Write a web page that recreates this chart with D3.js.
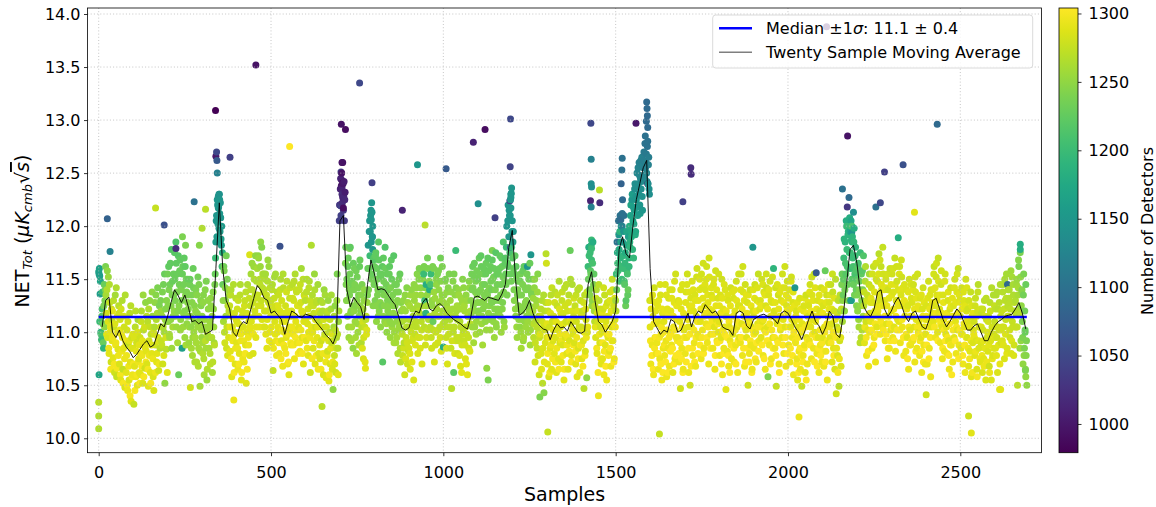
<!DOCTYPE html>
<html>
<head>
<meta charset="utf-8">
<script src="https://cdn.jsdelivr.net/npm/d3@7"></script>
<style>
  body { margin: 0; background: #fff; }
  svg text { font-family: "DejaVu Sans", sans-serif; fill: #000; }
</style>
</head>
<body>
<svg id="chart" width="1156" height="507"></svg>
<script>
// netTot[i] / nDetectors[i] are sample 2*i, netTotOdd[i] / nDetectorsOdd[i] are sample 2*i+1
// maValues[i] is the twenty sample moving average at sample (i + 1) * MA_STEP
const MA_STEP = 10;

const netTot = [
  11.57,11.60,11.36,11.00,10.93,11.22,11.08,10.85,11.45,11.30,
  11.62,11.18,11.40,10.95,11.52,10.80,11.28,11.05,10.72,11.12,
  11.20,10.76,11.05,10.62,11.35,10.90,10.58,11.15,10.84,11.25,
  10.70,11.12,10.55,10.98,11.30,10.65,10.85,11.05,10.48,10.92,
  10.62,11.02,10.45,10.88,10.55,11.18,10.72,10.35,10.95,10.60,
  10.85,10.32,10.68,11.05,10.58,10.90,10.50,11.12,10.75,10.62, // 100
  10.95,10.60,11.20,10.78,10.52,11.02,10.88,10.66,11.28,10.82,
  10.70,11.10,10.49,10.92,11.30,10.62,10.98,10.80,11.15,10.58,
  10.45,11.05,10.88,11.35,10.72,11.18,10.95,10.64,11.25,10.85,
  11.30,10.92,11.15,10.70,11.45,11.00,10.52,11.22,10.84,11.10,
  11.55,11.10,11.40,10.95,11.65,11.25,10.85,11.48,11.15,11.35, // 200
  11.75,11.30,11.85,11.05,11.55,11.20,10.60,11.45,11.68,11.12,
  11.40,10.85,11.62,11.18,11.70,10.95,11.35,11.50,11.08,11.28,
  11.22,10.90,11.45,10.48,11.05,11.35,10.78,11.60,11.00,11.25,
  10.95,11.40,10.72,11.18,11.52,10.85,11.08,10.49,11.30,11.02,
  11.15,10.80,11.35,10.60,11.05,10.92,11.48,10.55,10.98,11.22, // 300
  10.85,11.10,10.70,11.25,10.95,10.62,11.38,11.05,10.88,11.55,
  11.85,12.10,12.25,12.02,12.18,12.30,11.95,12.08,11.82,11.62,
  11.45,11.10,11.58,10.90,11.30,11.72,11.05,10.78,11.40,11.20,
  11.25,10.82,11.40,10.58,11.05,10.95,10.36,11.18,10.70,11.32,
  10.90,11.22,10.65,11.08,10.80,11.35,10.98,10.55,11.15,10.75, // 400
  11.05,10.72,11.30,10.88,10.52,11.18,11.45,10.95,11.10,10.78,
  11.25,11.55,11.00,11.40,10.80,11.62,11.15,11.35,10.95,11.48,
  11.60,11.25,11.70,11.05,11.45,11.85,11.30,11.12,11.55,11.38,
  11.40,11.05,11.55,11.20,10.85,11.48,11.30,11.62,11.00,11.25,
  11.30,10.90,11.45,10.64,11.15,11.52,10.98,11.25,10.78,11.38, // 500
  11.05,11.35,10.80,11.20,11.50,10.92,11.10,10.68,11.42,11.00,
  10.85,11.25,10.95,11.48,10.70,11.15,10.60,11.32,11.02,10.88,
  11.20,11.45,10.98,11.30,10.75,11.55,11.10,11.38,10.90,11.25,
  11.05,11.40,10.82,11.28,11.60,10.95,11.18,10.70,11.35,11.12,
  11.30,10.92,11.50,11.08,10.78,11.42,11.15,10.62,11.25,11.00, // 600
  11.35,10.85,11.18,11.55,10.70,11.05,11.28,10.95,11.45,10.80,
  11.10,10.75,11.30,10.92,10.30,11.20,10.60,11.40,10.98,11.05,
  10.57,11.15,10.82,11.30,10.54,11.00,10.70,11.22,10.90,10.65,
  10.46,11.05,10.78,11.25,10.62,10.95,11.55,10.85,11.10,12.05,
  12.20,12.45,12.38,12.30,12.60,12.15,12.42,12.25,11.65,11.45, // 700
  11.50,11.15,11.70,10.95,11.35,11.80,11.20,11.05,11.45,10.85,
  11.40,11.60,11.10,11.25,10.80,11.52,11.00,11.35,11.15,11.68,
  11.20,10.90,11.45,11.10,10.75,11.30,11.05,10.66,11.15,11.02,
  11.35,11.82,11.60,12.05,11.95,12.15,11.50,11.90,11.25,11.70,
  11.62,11.30,11.75,11.10,11.50,11.40,11.85,11.20,11.55,11.05, // 800
  11.55,11.25,10.72,11.70,11.35,11.10,11.60,11.45,11.00,11.30,
  11.40,11.15,11.62,10.95,11.30,11.50,11.08,11.25,11.72,11.00,
  11.25,10.90,11.45,11.10,10.80,11.38,11.05,11.55,10.72,11.20,
  11.10,10.78,11.30,10.90,10.60,11.20,10.95,11.42,10.70,11.05,
  10.85,11.25,10.65,11.05,11.40,10.92,11.15,10.55,11.30,10.98, // 900
  11.35,11.05,11.55,10.80,11.20,11.60,10.95,11.42,11.10,10.70,
  11.50,11.15,11.62,11.30,10.88,11.45,11.25,11.70,11.02,11.38,
  11.40,11.05,11.55,10.85,11.25,11.10,11.60,10.72,11.32,11.00,
  11.45,11.15,10.90,11.58,11.28,11.05,11.70,10.82,11.35,11.20,
  10.86,11.35,11.10,11.50,10.95,11.25,10.70,11.42,11.05,11.18, // 1000
  11.30,10.85,10.47,11.15,11.48,10.62,11.05,11.35,10.92,11.20,
  11.25,10.80,11.40,10.95,11.10,10.68,11.32,10.88,11.50,11.02,
  10.92,11.20,10.75,11.35,10.98,10.60,11.15,10.85,11.42,11.08,
  11.30,11.55,11.05,11.42,10.90,11.65,11.20,11.48,11.10,11.35,
  11.50,11.20,11.70,11.00,11.40,11.62,11.15,10.88,11.55,11.30, // 1100
  11.45,11.10,11.65,10.66,11.35,10.55,11.58,11.25,11.02,11.48,
  11.40,11.68,11.15,11.52,10.95,11.30,11.75,11.05,11.45,11.22,
  11.55,11.20,11.72,11.35,11.00,11.62,11.28,11.85,11.10,11.48,
  11.70,11.45,12.00,11.65,12.20,11.90,12.10,11.55,12.30,11.80,
  12.05,11.85,11.60,11.30,11.72,11.15,11.50,10.95,11.40,11.25, // 1200
  11.35,11.05,11.55,10.85,11.20,11.45,10.92,11.62,11.10,11.28,
  11.40,11.15,11.62,11.00,11.50,11.25,10.88,11.73,11.35,11.08,
  11.20,10.95,11.42,10.72,11.10,11.30,10.85,11.55,11.00,10.60,
  10.39,11.15,10.80,11.30,10.52,11.05,10.43,11.20,10.90,11.74,
  10.95,10.70,11.20,10.58,11.05,10.85,11.35,10.65,11.10,10.92, // 1300
  11.15,10.80,11.38,10.95,10.62,11.25,11.02,10.75,11.48,10.90,
  11.05,10.72,11.30,10.88,11.18,10.55,11.42,10.95,11.10,10.80,
  11.20,10.65,11.35,10.92,11.77,11.08,10.78,11.45,10.98,11.15,
  10.90,11.25,10.70,11.10,10.58,11.40,10.85,11.05,10.62,11.30,
  11.05,10.75,11.20,10.92,10.47,11.35,10.82,11.12,10.57,11.00, // 1400
  11.62,11.80,11.40,11.75,11.55,11.68,11.30,11.85,11.45,11.20,
  11.25,10.95,11.40,10.80,11.10,10.40,11.30,10.90,11.05,10.70,
  11.00,10.75,11.22,10.60,11.35,10.88,11.10,10.55,11.28,10.95,
  11.15,10.82,11.38,10.68,11.05,11.50,10.92,11.25,10.75,11.12,
  11.30,11.55,11.85,11.65,12.05,11.78,11.95,11.70,12.00,11.50, // 1500
  11.85,11.60,12.10,11.45,11.75,11.30,11.95,11.55,11.40,11.70,
  12.00,11.80,12.20,11.90,12.30,12.05,11.70,12.15,12.40,11.95,
  12.25,12.50,12.10,12.40,12.60,12.20,12.45,12.35,12.65,12.15,
  12.55,12.70,12.45,12.85,12.60,12.50,12.75,12.40,12.65,12.30,
  11.05,10.70,11.30,10.88,11.15,10.60,11.42,10.95,11.20,10.80, // 1600
  10.90,11.25,10.65,11.08,10.75,11.35,10.98,10.55,11.18,10.85,
  11.10,10.78,11.45,10.92,10.58,11.22,10.85,11.32,10.68,11.00,
  11.20,10.88,11.40,10.62,11.05,11.28,10.75,11.55,10.95,11.12,
  10.95,11.30,10.72,11.10,10.47,11.22,10.85,11.45,10.65,11.02,
  11.15,10.80,11.38,10.95,11.55,11.05,10.62,11.25,10.50,11.32, // 1700
  11.05,11.48,10.78,11.20,10.90,11.35,10.68,11.15,11.60,10.98,
  11.30,10.95,11.50,11.10,10.75,11.42,11.02,11.65,10.85,11.25,
  11.40,11.08,11.62,10.90,11.28,10.70,11.52,11.15,10.98,11.35,
  11.20,10.85,11.45,11.05,10.65,11.58,11.12,10.92,11.32,11.00,
  11.10,10.78,11.35,10.95,11.50,10.60,11.22,10.85,11.05,11.40, // 1800
  10.46,11.15,10.82,11.30,10.68,11.05,10.92,11.42,10.75,11.00,
  10.98,11.32,10.72,11.20,10.88,11.48,11.05,10.62,11.25,10.95,
  11.25,10.90,11.55,11.08,10.78,11.38,11.15,10.68,11.45,11.02,
  10.95,11.28,10.50,11.12,10.80,11.40,10.88,11.05,10.65,11.20,
  11.15,10.85,11.45,11.00,10.72,11.30,11.08,11.55,10.92,11.22, // 1900
  11.30,10.95,11.50,11.10,10.78,11.38,11.02,10.65,11.25,11.42,
  11.05,10.58,11.35,10.88,11.48,11.15,10.75,11.28,10.95,11.60,
  11.20,10.85,11.42,10.49,11.08,10.92,11.35,10.70,11.15,11.02,
  11.30,10.95,11.55,11.12,10.80,11.42,11.05,10.68,11.25,11.48,
  11.18,10.88,11.40,10.72,11.05,11.52,10.95,11.28,10.60,11.10, // 2000
  11.42,10.90,11.20,10.75,10.55,11.05,10.82,11.32,10.65,11.00,
  10.49,11.08,10.78,11.25,10.88,10.62,11.35,10.95,10.70,11.15,
  11.25,10.92,11.45,11.05,10.75,11.35,11.12,10.85,11.55,11.00,
  11.10,11.56,10.80,11.30,10.95,10.62,11.20,10.88,11.42,10.72,
  10.95,11.25,10.68,11.05,11.58,10.82,11.35,10.55,11.15,10.90, // 2100
  11.28,10.95,11.45,11.08,10.72,11.38,10.85,11.20,10.65,11.50,
  10.42,11.05,10.78,11.30,10.49,10.92,11.20,10.68,11.45,11.10,
  11.35,11.70,11.20,11.85,11.55,12.00,11.62,11.92,11.30,11.75,
  11.95,11.60,11.30,11.85,11.70,11.45,11.98,11.55,11.80,11.40,
  11.50,11.20,11.65,11.05,11.40,11.75,10.95,11.30,11.58,11.15, // 2200
  11.25,10.90,11.48,11.10,10.78,11.35,11.02,10.68,11.55,11.18,
  11.10,11.42,10.85,11.28,11.62,10.95,11.20,10.72,11.50,11.05,
  11.48,11.15,11.74,11.30,10.98,11.62,11.40,11.05,11.55,11.25,
  11.30,10.92,11.50,11.08,10.75,11.40,11.15,10.85,11.60,11.02,
  11.20,11.55,10.95,11.38,11.05,11.70,10.82,11.30,11.48,11.12, // 2300
  11.40,11.10,11.62,10.90,11.35,11.52,11.05,11.25,10.78,11.45,
  11.15,10.82,11.40,10.95,11.25,10.65,11.50,11.02,10.88,11.32,
  11.28,10.92,11.45,11.05,10.72,11.38,11.12,10.85,11.55,11.00,
  11.10,10.78,11.32,10.95,10.62,11.22,11.42,10.88,11.05,10.70,
  10.98,11.25,10.70,11.12,11.48,10.85,11.35,10.58,11.05,11.18, // 2400
  11.40,11.10,11.62,11.25,10.95,11.52,11.35,11.00,11.70,11.18,
  11.22,10.90,11.45,11.05,10.75,11.35,11.12,10.82,11.55,10.98,
  11.05,10.80,11.30,10.92,10.65,11.22,11.42,10.88,11.15,10.72,
  11.25,10.95,11.50,11.10,10.80,11.38,11.02,11.60,10.88,11.30,
  11.15,10.85,11.42,10.98,10.70,11.30,11.05,10.62,11.50,11.20, // 2500
  10.95,11.22,10.68,11.08,10.82,11.38,10.58,11.15,10.90,11.02,
  11.10,10.78,11.32,10.92,10.65,11.20,11.45,10.85,11.05,10.72,
  10.90,11.18,10.62,11.02,10.75,11.30,10.85,10.55,11.12,10.95,
  10.82,11.15,10.68,11.28,10.92,10.55,11.05,10.78,11.35,10.98,
  11.10,10.85,11.35,10.95,10.62,11.22,11.02,10.46,11.45,10.90, // 2600
  11.20,10.92,11.45,11.05,10.75,11.30,11.12,11.55,10.85,11.25,
  11.15,11.40,10.95,11.28,10.80,11.52,11.05,11.35,10.88,11.20,
  11.30,11.05,11.50,10.50,11.42,11.62,11.18,11.75,10.92,11.38,
  11.10,10.70,11.55,10.85,11.00,10.58
];

const nDetectors = [
  1160,1165,1160,1190,1200,1210,1230,1190,1230,1240,
  1240,1280,1265,1285,1255,1290,1275,1290,1280,1270,
  1290,1290,1275,1280,1260,1295,1275,1285,1290,1270,
  1285,1280,1290,1295,1265,1275,1290,1280,1285,1295,
  1290,1280,1295,1275,1285,1270,1290,1290,1280,1295,
  1285,1275,1290,1270,1295,1280,1290,1260,1285,1290, // 100
  1280,1290,1265,1295,1285,1270,1290,1280,1250,1290,
  1285,1270,1290,1280,1250,1290,1270,1290,1255,1285,
  1285,1265,1280,1245,1290,1260,1285,1280,1240,1270,
  1240,1275,1255,1280,1235,1260,1250,1245,1270,1250,
  1235,1250,1240,1260,1225,1245,1255,1230,1250,1240, // 200
  1220,1240,1215,1255,1230,1245,1230,1235,1225,1250,
  1240,1160,1230,1250,1225,1255,1245,1235,1250,1245,
  1245,1255,1235,1280,1250,1240,1260,1230,1255,1245,
  1260,1240,1265,1250,1235,1260,1255,1260,1245,1255,
  1250,1265,1245,1260,1255,1270,1240,1255,1265,1250, // 300
  1260,1255,1270,1250,1265,1260,1245,1255,1270,1230,
  1160,1150,1150,1155,1150,1145,1155,1150,1160,1200,
  1230,1260,1240,1280,1250,1235,1275,1285,1255,1270,
  1275,1290,1265,1290,1285,1295,1295,1280,1290,1270,
  1290,1280,1295,1285,1290,1270,1295,1290,1280,1295, // 400
  1285,1295,1275,1290,1290,1280,1265,1295,1285,1290,
  1275,1260,1290,1270,1285,1255,1280,1270,1290,1265,
  1260,1280,1255,1290,1270,1250,1275,1285,1265,1275,
  1270,1285,1260,1280,1290,1265,1275,1255,1290,1280,
  1275,1290,1265,1275,1285,1260,1290,1280,1295,1270, // 500
  1290,1275,1295,1285,1265,1290,1285,1295,1270,1290,
  1295,1280,1290,1270,1295,1285,1290,1275,1290,1295,
  1285,1270,1295,1280,1295,1265,1290,1275,1295,1285,
  1290,1275,1295,1280,1260,1290,1285,1290,1275,1285,
  1270,1290,1265,1285,1290,1270,1280,1280,1275,1290, // 600
  1265,1285,1275,1255,1290,1280,1270,1290,1260,1285,
  1270,1285,1260,1280,1270,1265,1285,1255,1275,1270,
  1290,1265,1280,1255,1290,1270,1285,1260,1275,1285,
  1250,1260,1275,1250,1280,1265,1240,1270,1255,1040,
  1030,1010,1000,1020,995,1030,1005,1015,1240,1240, // 700
  1235,1250,1230,1255,1240,1225,1245,1260,1235,1250,
  1240,1235,1255,1245,1260,1235,1255,1240,1250,1230,
  1245,1265,1240,1280,1285,1250,1275,1290,1270,1285,
  1240,1150,1230,1150,1150,1150,1235,1150,1245,1220,
  1230,1240,1225,1250,1235,1240,1220,1245,1230,1250, // 800
  1230,1240,1220,1225,1240,1250,1230,1235,1250,1240,
  1235,1245,1225,1255,1240,1230,1250,1245,1220,1255,
  1245,1260,1235,1250,1265,1240,1255,1230,1270,1250,
  1260,1275,1250,1270,1280,1255,1275,1245,1280,1265,
  1280,1260,1285,1270,1250,1280,1265,1285,1255,1275, // 900
  1255,1270,1245,1285,1265,1240,1280,1250,1270,1285,
  1245,1265,1240,1200,1280,1180,1260,1235,1275,1250,
  1180,1270,1200,1280,1250,1230,1240,1285,1255,1275,
  1250,1265,1280,1240,1255,1270,1235,1285,1250,1260,
  1180,1250,1265,1240,1275,1255,1285,1245,1270,1260, // 1000
  1255,1275,1270,1265,1245,1220,1270,1250,1280,1260,
  1260,1280,1250,1275,1265,1285,1255,1280,1245,1270,
  1275,1260,1285,1250,1275,1290,1265,1280,1250,1270,
  1245,1235,1255,1240,1260,1230,1250,1240,1255,1245,
  1235,1245,1230,1255,1240,1230,1250,1260,1235,1245, // 1100
  1235,1250,1230,1250,1240,1240,1230,1245,1255,1235,
  1235,1225,1245,1235,1255,1240,1220,1250,1235,1245,
  1230,1245,1225,1240,1255,1230,1240,1215,1250,1235,
  1220,1235,1150,1225,1150,1150,1150,1230,1150,1200,
  1150,1160,1230,1245,1225,1250,1235,1255,1240,1245, // 1200
  1240,1250,1235,1260,1245,1240,1255,1225,1250,1245,
  1240,1250,1150,1255,1235,1245,1260,1150,1240,1255,
  1260,1270,1250,1280,1265,1255,1275,1245,1270,1280,
  1240,1275,1285,1265,1270,1280,1245,1270,1285,1270,
  1285,1290,1275,1285,1280,1290,1270,1290,1280,1285, // 1300
  1280,1290,1270,1285,1290,1275,1285,1290,1265,1285,
  1285,1290,1275,1285,1280,1290,1270,1285,1280,1290,
  1280,1290,1270,1285,1230,1280,1290,1265,1285,1280,
  1285,1275,1290,1280,1290,1270,1285,1280,1290,1275,
  1280,1290,1275,1285,1270,1270,1285,1280,1250,1285, // 1400
  1200,1180,1240,1200,1230,1200,1250,1180,1240,1260,
  1270,1285,1265,1290,1280,1295,1270,1285,1280,1290,
  1285,1290,1280,1295,1275,1290,1285,1295,1280,1290,
  1285,1290,1280,1295,1285,1275,1290,1280,1295,1285,
  1260,1200,1100,1200,1100,1180,1190,1190,1150,1200, // 1500
  1150,1200,1100,1220,1180,1220,1170,1210,1230,1190,
  1180,1190,1170,1180,1160,1170,1195,1160,1140,1175,
  1150,1130,1160,1140,1120,1150,1130,1140,1120,1150,
  1120,1110,1130,1100,1120,1130,1100,1140,1115,1140,
  1290,1295,1285,1295,1290,1295,1280,1295,1290,1295, // 1600
  1295,1290,1295,1290,1295,1285,1295,1295,1290,1295,
  1290,1295,1285,1295,1295,1290,1295,1285,1295,1290,
  1290,1295,1285,1290,1295,1290,1295,1280,1295,1290,
  1295,1285,1295,1290,1280,1290,1295,1285,1295,1290,
  1290,1295,1285,1295,1280,1290,1295,1290,1280,1285, // 1700
  1290,1285,1295,1290,1295,1285,1295,1290,1280,1295,
  1290,1295,1285,1290,1295,1285,1295,1280,1295,1290,
  1285,1295,1280,1295,1290,1295,1285,1290,1295,1285,
  1290,1295,1285,1290,1295,1280,1290,1295,1285,1290,
  1290,1295,1285,1290,1280,1295,1290,1295,1290,1285, // 1800
  1290,1285,1295,1285,1295,1290,1295,1280,1295,1290,
  1290,1285,1295,1290,1295,1280,1290,1295,1285,1290,
  1285,1295,1280,1290,1295,1285,1290,1295,1280,1290,
  1290,1285,1280,1290,1295,1280,1295,1290,1295,1285,
  1285,1295,1280,1290,1295,1285,1290,1275,1295,1285, // 1900
  1285,1290,1280,1290,1295,1285,1290,1295,1285,1280,
  1290,1240,1285,1295,1280,1290,1295,1285,1290,1190,
  1285,1295,1280,1275,1290,1295,1280,1295,1290,1290,
  1285,1295,1280,1290,1295,1285,1290,1295,1285,1280,
  1290,1295,1285,1295,1290,1280,1295,1285,1295,1290, // 2000
  1150,1295,1285,1295,1290,1290,1295,1285,1295,1290,
  1275,1290,1295,1285,1295,1290,1280,1290,1295,1285,
  1285,1295,1280,1290,1295,1285,1290,1295,1275,1290,
  1290,1070,1295,1285,1290,1295,1285,1295,1280,1295,
  1290,1285,1295,1290,1230,1295,1280,1295,1285,1290, // 2100
  1285,1290,1275,1285,1290,1275,1290,1280,1285,1270,
  1280,1275,1285,1270,1270,1280,1265,1285,1240,1260,
  1230,1200,1250,1190,1220,1200,1210,1190,1240,1200,
  1170,1200,1160,1190,1200,1230,1180,1210,1190,1230,
  1220,1250,1210,1260,1240,1200,1270,1245,1220,1260, // 2200
  1270,1290,1265,1280,1295,1275,1290,1295,1260,1285,
  1290,1280,1295,1285,1275,1295,1290,1295,1280,1290,
  1280,1290,1270,1285,1295,1275,1285,1295,1280,1290,
  1285,1295,1280,1290,1295,1280,1290,1295,1275,1290,
  1290,1280,1295,1285,1290,1275,1295,1285,1280,1290, // 2300
  1285,1290,1280,1295,1285,1280,1295,1285,1295,1285,
  1290,1295,1285,1290,1285,1295,1280,1290,1295,1285,
  1285,1295,1280,1290,1295,1285,1290,1295,1280,1290,
  1290,1295,1285,1290,1295,1285,1280,1295,1290,1295,
  1290,1285,1295,1290,1280,1295,1285,1295,1290,1285, // 2400
  1285,1290,1275,1285,1295,1280,1285,1290,1275,1290,
  1285,1295,1280,1290,1295,1285,1290,1295,1280,1290,
  1290,1295,1285,1290,1295,1285,1280,1295,1290,1295,
  1285,1290,1280,1290,1295,1285,1290,1275,1295,1285,
  1285,1290,1280,1290,1295,1285,1290,1295,1280,1285, // 2500
  1285,1280,1290,1285,1290,1275,1290,1280,1285,1285,
  1280,1290,1275,1285,1285,1280,1270,1285,1280,1290,
  1285,1275,1285,1280,1290,1270,1285,1285,1275,1280,
  1285,1275,1280,1270,1285,1285,1275,1285,1265,1280,
  1275,1285,1265,1280,1285,1270,1280,1290,1265,1280, // 2600
  1275,1285,1265,1280,1285,1270,1275,1260,1285,1270,
  1275,1265,1280,1270,1285,1260,1275,1265,1280,1270,
  1265,1275,1255,1270,1260,1240,1270,1240,1250,1255,
  1240,1250,1240,1240,1230,1250
];

const netTotOdd = [
  11.55,11.10,11.48,10.98,11.15,11.38,10.90,11.25,11.05,11.40,
  11.35,10.98,11.58,11.10,10.85,11.45,11.00,10.65,11.22,10.92,
  10.95,11.30,10.70,11.08,10.88,11.42,10.66,11.00,10.78,11.18,
  11.02,10.60,11.22,10.82,10.95,10.52,11.15,10.75,11.35,10.88,
  10.78,10.50,11.10,10.68,10.92,10.40,11.25,10.85,10.58,10.98,
  10.70,10.95,10.45,11.20,10.82,10.60,11.00,10.72,10.88,10.52, // 101
  10.80,11.10,10.68,10.92,11.35,10.58,11.05,10.85,10.72,11.15,
  10.90,10.65,11.22,10.78,11.05,10.52,10.88,11.38,10.75,11.00,
  10.98,11.28,10.62,11.12,10.80,11.42,10.92,10.70,11.18,11.05,
  11.20,10.88,11.38,11.05,10.78,11.55,11.12,10.95,11.30,10.62,
  11.25,11.62,10.98,11.45,11.12,11.78,11.35,11.05,11.55,11.20, // 201
  11.50,11.15,11.65,11.38,10.90,11.72,11.25,11.58,11.02,11.42,
  11.30,11.55,11.05,11.45,11.20,11.62,10.88,11.38,11.15,11.50,
  11.35,11.05,11.50,11.15,10.85,11.28,10.95,11.42,11.10,10.72,
  11.20,10.90,11.35,11.05,10.68,11.45,11.12,10.82,11.25,10.95,
  10.90,11.28,10.75,11.12,11.40,10.85,11.02,10.65,11.30,10.95, // 301
  11.05,10.80,11.32,10.95,11.15,10.72,11.22,10.90,11.45,11.70,
  12.05,11.90,12.20,12.28,11.98,12.12,12.22,11.88,12.00,11.75,
  11.30,11.62,11.00,11.42,11.15,10.85,11.50,11.25,10.95,11.35,
  11.05,11.35,10.75,11.15,10.92,11.45,10.62,11.00,10.85,11.12,
  11.10,10.85,11.30,10.70,11.00,11.45,10.92,10.62,11.20,11.05, // 401
  10.92,11.25,10.80,11.38,11.00,10.65,11.15,10.88,11.32,11.05,
  11.40,11.10,11.65,11.28,10.98,11.50,11.20,11.72,11.05,11.32,
  11.35,11.72,11.15,11.50,11.62,11.25,11.80,11.42,11.05,11.55,
  11.20,11.50,10.98,11.35,11.12,11.68,11.28,10.92,11.42,11.15,
  11.05,11.40,11.20,10.85,11.32,11.10,11.55,10.92,11.22,11.00, // 501
  11.25,10.90,11.15,11.40,10.75,11.30,11.02,11.55,10.88,11.18,
  11.10,10.80,11.38,10.98,11.20,10.72,11.05,11.42,10.90,11.15,
  11.05,11.32,10.88,11.48,11.15,10.95,11.40,11.02,11.25,10.80,
  11.25,10.90,11.45,11.02,11.20,10.80,11.50,11.10,10.95,11.32,
  11.10,11.38,10.85,11.22,11.00,11.48,10.95,11.30,11.05,10.75, // 601
  11.00,11.25,10.92,11.40,11.12,10.78,11.30,11.05,10.65,11.20,
  10.88,11.18,10.65,11.05,11.28,10.80,11.12,10.95,11.35,10.72,
  11.05,10.78,11.20,10.92,10.60,11.12,10.85,11.35,10.98,10.72,
  10.92,11.15,10.70,11.02,10.85,11.30,10.98,10.60,11.20,12.20,
  12.35,12.10,12.50,12.22,12.40,12.28,12.05,12.32,11.80,11.30, // 701
  11.30,11.62,11.05,11.40,11.55,11.18,10.92,11.48,11.25,11.65,
  11.20,11.45,10.95,11.58,11.30,11.08,11.42,10.88,11.62,11.25,
  11.35,11.05,10.85,11.22,10.95,11.40,10.72,11.12,10.98,11.28,
  11.60,11.40,11.95,11.72,12.10,11.85,11.55,12.00,11.68,11.45,
  11.45,11.72,11.25,11.60,11.35,11.15,11.68,11.40,11.28,11.52, // 801
  11.40,11.62,11.15,11.48,11.25,11.80,11.35,11.08,11.55,11.20,
  11.25,11.55,11.10,11.42,11.68,11.05,11.35,11.18,10.90,11.45,
  11.15,11.38,10.95,11.30,11.02,11.50,11.12,10.85,11.28,11.00,
  10.98,11.22,10.85,11.12,11.35,10.75,11.05,10.90,11.28,10.82,
  11.12,10.80,11.35,11.00,10.72,11.22,10.95,11.45,11.08,10.88, // 901
  11.10,11.42,11.25,10.95,11.50,11.18,10.85,11.35,11.02,11.58,
  11.25,11.55,11.05,11.42,11.18,10.95,11.35,11.60,11.12,11.48,
  11.15,11.45,10.95,11.30,11.62,11.02,11.38,11.18,10.88,11.50,
  11.22,11.55,11.02,11.40,11.15,10.95,11.48,11.30,11.62,11.08,
  11.28,11.05,11.48,11.15,10.85,11.38,11.22,10.98,11.55,11.12, // 1001
  11.05,11.38,10.92,11.22,11.00,11.55,10.80,11.15,11.42,10.95,
  11.12,10.92,11.35,10.78,11.22,11.05,10.62,11.28,10.98,11.42,
  11.25,10.88,11.05,10.70,11.30,11.15,10.95,11.48,10.82,11.20,
  11.15,11.40,11.62,11.25,11.52,11.05,11.38,10.98,11.58,11.28,
  11.38,11.15,11.55,11.28,11.72,11.08,11.45,11.22,11.60,11.35, // 1101
  11.25,11.55,11.02,11.38,11.70,11.18,11.42,11.12,11.62,11.30,
  11.28,11.50,11.10,11.60,11.22,11.40,11.08,11.55,11.32,11.18,
  11.30,11.60,11.15,11.45,11.70,11.22,11.52,11.38,11.05,11.65,
  11.55,11.80,11.35,12.05,11.62,12.15,11.75,12.25,11.48,11.95,
  11.70,11.95,11.40,11.55,11.22,11.62,11.05,11.35,11.48,11.12, // 1201
  11.22,11.48,11.00,11.35,11.12,11.58,10.95,11.25,11.42,11.05,
  11.30,11.55,11.10,11.42,11.20,11.65,11.02,11.38,11.15,11.50,
  11.32,11.08,11.50,10.90,11.25,11.05,11.38,10.78,11.15,10.95,
  10.98,11.22,10.65,11.10,10.85,11.35,10.72,11.02,11.28,11.65,
  11.08,10.80,11.28,10.95,10.62,11.18,10.88,11.42,10.75,11.02, // 1301
  10.95,11.28,10.72,11.10,10.85,11.35,11.08,10.65,11.22,10.98,
  11.18,10.92,11.38,10.78,11.08,10.65,11.25,10.98,11.45,10.88,
  10.95,11.28,10.82,11.10,11.50,10.72,11.20,11.02,10.88,11.32,
  11.12,10.82,11.35,10.95,11.20,10.75,11.02,11.42,10.88,11.15,
  10.88,11.15,10.68,11.28,11.00,10.78,11.22,10.95,11.38,11.05, // 1401
  11.50,11.72,11.35,11.58,11.82,11.25,11.65,11.42,11.55,11.10,
  11.05,11.32,10.85,11.18,10.62,11.45,10.98,11.22,10.75,11.12,
  11.18,10.90,11.42,10.82,11.05,10.68,11.25,10.98,11.15,10.78,
  10.98,11.30,10.85,11.20,10.92,11.40,11.08,10.72,11.32,11.05,
  11.20,11.40,11.75,11.58,11.92,11.48,12.10,11.85,11.62,12.00, // 1501
  11.72,11.95,11.48,11.65,11.25,11.82,11.58,11.35,11.90,11.62,
  11.85,12.10,11.95,12.25,11.78,12.18,12.02,12.35,11.92,12.28,
  12.38,12.18,12.55,12.30,12.48,12.12,12.62,12.42,12.28,12.58,
  12.62,12.48,12.78,12.55,12.68,12.42,12.80,12.58,12.35,11.30,
  10.92,11.22,10.78,11.35,10.65,11.08,10.85,11.28,10.95,11.12, // 1601
  11.12,10.80,11.30,10.95,11.45,10.70,11.05,11.22,10.62,11.00,
  10.88,11.20,10.72,11.35,11.02,10.62,11.15,10.95,11.40,10.82,
  10.98,11.32,10.85,11.15,10.70,11.48,11.02,10.78,11.25,10.92,
  11.12,10.80,11.28,10.90,11.40,10.75,11.05,10.62,11.18,10.95,
  10.95,11.28,10.72,11.45,11.12,10.85,11.38,10.98,11.20,10.68, // 1701
  11.25,10.85,11.40,11.02,10.72,11.30,10.95,11.52,11.10,10.80,
  11.10,11.40,10.88,11.22,11.55,10.95,11.32,10.80,11.15,11.45,
  11.18,11.50,10.95,11.35,11.05,11.70,11.22,10.85,11.42,11.10,
  11.32,10.98,11.50,11.15,10.78,11.25,11.40,10.90,11.08,11.55,
  11.25,10.92,11.18,10.70,11.32,11.02,10.80,11.45,10.98,11.15, // 1801
  11.20,10.95,11.35,10.78,11.10,10.62,11.25,10.88,11.02,11.38,
  11.15,10.85,11.40,11.02,10.70,11.30,11.10,10.92,11.55,11.08,
  11.08,11.40,10.95,11.22,11.62,10.85,11.30,11.05,10.72,11.35,
  11.18,10.85,11.35,10.72,11.08,10.92,11.25,10.62,11.02,11.40,
  10.98,11.32,10.75,11.20,10.90,11.42,11.05,10.82,11.28,11.12, // 1901
  11.05,11.25,10.88,11.45,11.12,10.75,11.35,11.00,11.55,10.92,
  11.22,10.92,11.40,11.08,10.70,11.30,11.02,11.52,10.85,11.18,
  10.95,11.28,10.78,11.12,11.45,10.90,11.22,10.62,11.38,11.05,
  11.15,11.42,10.88,11.28,11.05,11.62,10.95,11.35,11.20,10.80,
  11.32,11.05,11.22,10.85,11.48,11.12,10.78,11.38,11.00,11.25, // 2001
  10.92,11.15,10.70,11.28,10.95,10.62,11.12,10.85,11.22,10.78,
  11.02,10.72,11.20,10.85,11.32,11.05,10.55,11.18,10.92,11.28,
  11.08,11.38,10.88,11.20,11.52,10.98,11.30,11.15,10.72,11.42,
  10.95,11.22,10.68,11.15,10.85,11.35,11.02,10.78,11.28,10.90,
  11.18,10.82,11.40,11.00,10.72,11.28,11.08,10.92,11.45,11.22, // 2101
  11.05,11.35,10.90,11.22,11.55,11.00,10.78,11.32,11.12,10.95,
  10.85,11.15,10.62,11.02,10.75,11.35,10.95,11.22,11.55,11.30,
  11.50,11.88,11.40,11.65,12.05,11.78,11.45,11.95,11.60,12.08,
  11.75,12.05,11.50,11.90,11.62,11.85,11.35,11.72,11.58,11.25,
  11.35,11.62,11.12,11.48,10.90,11.25,11.55,11.02,11.40,11.72, // 2201
  11.38,11.05,11.62,10.95,11.30,11.15,10.82,11.45,11.00,11.28,
  11.32,11.02,11.55,11.15,10.88,11.38,11.08,11.65,10.98,11.25,
  11.20,11.55,11.35,11.68,11.10,11.45,11.25,11.80,11.02,11.40,
  11.15,11.42,10.98,11.25,11.55,10.85,11.32,11.08,10.92,11.45,
  11.35,11.05,11.60,11.22,10.92,11.45,11.15,11.62,11.02,11.28, // 2301
  11.25,11.55,11.02,11.38,11.68,11.12,11.42,10.95,11.30,11.15,
  11.28,10.98,11.22,10.75,11.38,11.05,10.88,11.15,11.45,10.92,
  11.15,11.40,10.95,11.22,11.52,10.82,11.32,11.05,11.25,10.98,
  11.22,10.92,11.05,11.35,10.82,11.15,10.72,11.28,10.98,11.12,
  11.15,10.88,11.32,11.05,10.75,11.22,10.95,11.40,11.10,11.28, // 2401
  11.25,11.55,11.05,11.42,11.18,11.65,11.30,10.92,11.48,11.12,
  11.35,11.08,11.58,11.18,10.85,11.28,11.02,11.48,10.92,11.15,
  11.18,10.95,11.38,10.78,11.08,10.88,11.25,10.60,11.32,11.02,
  11.15,11.42,10.92,11.28,11.05,11.55,11.18,10.75,11.35,11.02,
  11.28,10.98,11.22,10.78,11.38,11.08,10.88,11.25,10.95,11.42, // 2501
  11.12,10.85,11.30,10.75,11.05,10.92,11.25,10.62,11.18,10.98,
  10.95,11.25,10.82,11.15,10.58,11.38,10.92,11.05,10.75,11.22,
  11.05,10.78,11.22,10.92,10.68,11.15,10.85,11.32,10.72,11.00,
  11.10,10.88,10.62,11.20,10.98,11.42,10.75,11.05,10.85,11.25,
  10.95,11.22,10.78,11.38,11.05,10.88,11.28,10.70,11.15,11.02, // 2601
  11.05,11.38,10.88,11.22,11.50,10.98,11.32,10.80,11.15,11.40,
  11.32,11.02,11.22,11.58,10.92,11.10,11.45,10.78,11.28,11.05,
  11.18,11.45,11.05,11.35,11.68,11.22,10.85,11.52,11.25,11.40,
  10.95,11.35,10.78,11.20,10.65
];

const nDetectorsOdd = [
  1160,1200,1170,1210,1220,1200,1230,1240,1250,1235,
  1260,1290,1250,1285,1295,1265,1290,1298,1280,1290,
  1295,1270,1298,1285,1295,1265,1298,1290,1295,1280,
  1290,1298,1280,1295,1290,1300,1280,1295,1265,1290,
  1295,1298,1280,1295,1290,1300,1270,1290,1298,1285,
  1298,1285,1300,1270,1290,1298,1285,1295,1290,1300, // 101
  1295,1275,1298,1290,1255,1300,1280,1290,1298,1270,
  1290,1298,1265,1295,1275,1300,1290,1250,1295,1280,
  1280,1250,1295,1265,1290,1240,1285,1295,1260,1275,
  1255,1275,1240,1265,1285,1230,1260,1280,1245,1290,
  1245,1225,1260,1235,1250,1215,1240,1260,1230,1250, // 201
  1230,1250,1225,1240,1260,1220,1245,1230,1255,1235,
  1240,1230,1255,1235,1245,1225,1260,1240,1250,1230,
  1240,1255,1230,1250,1260,1245,1255,1235,1250,1265,
  1250,1260,1245,1255,1265,1240,1250,1260,1245,1255,
  1260,1250,1265,1255,1245,1260,1255,1265,1250,1260, // 301
  1255,1265,1250,1260,1255,1270,1250,1260,1240,1200,
  1150,1155,1150,1145,1155,1150,1150,1160,1155,1180,
  1250,1235,1270,1245,1260,1280,1240,1265,1285,1255,
  1290,1270,1298,1285,1295,1265,1300,1290,1295,1285,
  1285,1295,1275,1298,1290,1265,1295,1300,1280,1290, // 401
  1295,1280,1298,1270,1290,1300,1285,1295,1275,1290,
  1270,1285,1255,1275,1295,1265,1280,1250,1290,1275,
  1275,1250,1285,1265,1255,1280,1245,1270,1290,1260,
  1280,1265,1290,1275,1285,1255,1275,1295,1270,1285,
  1290,1270,1280,1295,1275,1285,1260,1295,1280,1290, // 501
  1285,1298,1290,1275,1300,1280,1295,1265,1298,1285,
  1290,1300,1280,1295,1285,1300,1290,1275,1298,1285,
  1295,1280,1298,1270,1290,1298,1275,1295,1285,1300,
  1285,1298,1275,1295,1285,1300,1270,1290,1298,1280,
  1285,1270,1295,1280,1290,1265,1295,1275,1290,1298, // 601
  1290,1275,1295,1265,1285,1298,1270,1290,1298,1280,
  1290,1270,1298,1285,1265,1295,1280,1290,1260,1295,
  1280,1295,1270,1285,1298,1275,1290,1260,1285,1295,
  1275,1265,1285,1270,1280,1255,1270,1290,1260,1030,
  1010,1040,995,1020,1000,1015,1035,1005,1230,1245, // 701
  1245,1230,1255,1240,1235,1250,1260,1235,1245,1230,
  1250,1240,1260,1235,1245,1255,1240,1265,1230,1250,
  1245,1270,1285,1260,1280,1250,1290,1270,1285,1255,
  1230,1240,1150,1200,1150,1150,1230,1150,1220,1240,
  1235,1225,1245,1230,1240,1250,1225,1240,1245,1230, // 801
  1235,1225,1250,1235,1245,1215,1240,1255,1230,1245,
  1245,1230,1250,1240,1225,1255,1240,1250,1260,1235,
  1250,1240,1260,1245,1255,1235,1250,1265,1245,1255,
  1270,1255,1280,1265,1250,1285,1270,1280,1255,1275,
  1265,1285,1255,1275,1290,1260,1280,1250,1270,1285, // 901
  1270,1250,1260,1280,1245,1265,1285,1255,1275,1240,
  1260,1200,1270,1245,1190,1280,1250,1240,1265,1245,
  1265,1210,1275,1250,1240,1270,1255,1265,1280,1245,
  1260,1240,1275,1250,1265,1280,1245,1255,1240,1270,
  1255,1270,1245,1265,1280,1250,1260,1275,1240,1265, // 1001
  1270,1250,1280,1260,1270,1240,1285,1265,1245,1275,
  1265,1275,1255,1285,1260,1270,1290,1255,1275,1250,
  1260,1280,1270,1290,1255,1265,1275,1245,1285,1260,
  1250,1240,1230,1245,1235,1255,1240,1260,1235,1245,
  1240,1250,1235,1245,1225,1255,1240,1245,1230,1240, // 1101
  1245,1230,1255,1240,1225,1250,1240,1250,1230,1245,
  1240,1235,1250,1230,1245,1240,1250,1230,1240,1245,
  1240,1230,1250,1235,1225,1245,1235,1240,1255,1225,
  1230,1200,1240,1150,1225,1150,1210,1150,1235,1150,
  1220,1150,1240,1230,1250,1225,1255,1240,1235,1250, // 1201
  1245,1235,1255,1240,1250,1230,1260,1245,1240,1255,
  1245,1235,1255,1240,1250,1230,1255,1240,1250,1235,
  1255,1270,1250,1275,1260,1270,1255,1280,1265,1275,
  1285,1270,1290,1280,1285,1265,1290,1280,1270,1280,
  1290,1298,1280,1295,1298,1285,1295,1275,1298,1290, // 1301
  1295,1280,1298,1290,1295,1275,1290,1300,1285,1295,
  1285,1295,1275,1298,1290,1300,1280,1295,1270,1295,
  1295,1280,1298,1290,1265,1300,1285,1290,1298,1280,
  1290,1298,1275,1295,1285,1300,1290,1270,1298,1285,
  1295,1285,1300,1280,1290,1298,1285,1295,1275,1290, // 1401
  1230,1200,1245,1220,1190,1255,1210,1240,1225,1270,
  1290,1275,1298,1285,1300,1270,1295,1280,1300,1290,
  1290,1300,1280,1298,1295,1302,1285,1298,1290,1300,
  1298,1285,1300,1290,1298,1280,1295,1302,1285,1295,
  1270,1230,1180,1200,1150,1210,1100,1170,1200,1120, // 1501
  1190,1150,1210,1195,1230,1170,1200,1225,1160,1195,
  1185,1165,1175,1150,1190,1160,1170,1140,1180,1150,
  1140,1155,1125,1145,1130,1155,1120,1135,1145,1125,
  1115,1130,1100,1120,1110,1135,1100,1120,1140,1280,
  1300,1292,1302,1288,1302,1295,1300,1290,1302,1295, // 1601
  1295,1302,1290,1300,1285,1302,1298,1292,1302,1298,
  1300,1292,1302,1288,1298,1302,1295,1300,1285,1302,
  1300,1290,1302,1295,1302,1285,1298,1302,1292,1300,
  1295,1302,1290,1300,1285,1302,1298,1302,1292,1300,
  1300,1290,1302,1285,1295,1302,1288,1300,1292,1302, // 1701
  1292,1302,1288,1298,1302,1290,1300,1282,1295,1302,
  1298,1288,1302,1295,1282,1300,1290,1302,1295,1288,
  1295,1285,1302,1290,1300,1280,1295,1302,1288,1298,
  1290,1300,1285,1295,1302,1292,1288,1302,1298,1282,
  1292,1302,1295,1302,1290,1300,1302,1285,1300,1295, // 1801
  1295,1302,1288,1302,1298,1302,1292,1300,1298,1288,
  1295,1302,1288,1300,1302,1290,1298,1302,1282,1298,
  1298,1288,1302,1295,1280,1302,1290,1300,1302,1290,
  1295,1302,1290,1302,1298,1302,1292,1302,1300,1288,
  1300,1290,1302,1295,1302,1285,1298,1302,1292,1295, // 1901
  1298,1292,1302,1285,1295,1302,1290,1300,1280,1302,
  1292,1302,1288,1298,1302,1290,1300,1282,1302,1295,
  1300,1290,1302,1295,1285,1302,1292,1302,1288,1298,
  1295,1288,1302,1292,1298,1280,1302,1290,1295,1302,
  1290,1298,1292,1302,1285,1295,1302,1288,1300,1292, // 2001
  1300,1295,1302,1290,1300,1302,1295,1302,1292,1302,
  1298,1302,1292,1302,1288,1298,1302,1295,1300,1290,
  1298,1288,1302,1295,1282,1300,1290,1295,1302,1288,
  1300,1292,1302,1295,1302,1288,1298,1302,1290,1300,
  1295,1302,1288,1298,1302,1290,1298,1300,1285,1292, // 2101
  1295,1285,1300,1290,1278,1298,1302,1288,1295,1300,
  1292,1280,1298,1285,1295,1270,1288,1275,1230,1250,
  1225,1190,1235,1210,1180,1200,1230,1190,1215,1180,
  1200,1170,1220,1190,1210,1195,1235,1200,1215,1245,
  1240,1220,1255,1230,1270,1250,1225,1265,1240,1215, // 2201
  1275,1295,1265,1298,1280,1290,1302,1275,1295,1285,
  1290,1300,1282,1295,1302,1288,1298,1280,1302,1292,
  1295,1285,1290,1280,1298,1288,1295,1275,1300,1290,
  1298,1288,1302,1292,1282,1302,1290,1298,1302,1288,
  1290,1300,1282,1295,1302,1288,1298,1280,1300,1292, // 2301
  1292,1285,1300,1290,1280,1298,1288,1302,1292,1298,
  1292,1300,1295,1302,1288,1298,1302,1295,1285,1300,
  1295,1288,1302,1292,1282,1302,1290,1298,1292,1300,
  1292,1300,1298,1288,1302,1295,1302,1290,1300,1295,
  1295,1302,1288,1298,1302,1292,1300,1285,1295,1290, // 2401
  1292,1282,1300,1288,1295,1280,1290,1302,1285,1298,
  1290,1298,1282,1295,1302,1292,1300,1285,1302,1295,
  1295,1300,1288,1302,1298,1302,1292,1302,1290,1298,
  1295,1285,1302,1290,1298,1282,1295,1302,1288,1300,
  1290,1298,1292,1302,1285,1295,1300,1290,1300,1285, // 2501
  1290,1295,1282,1298,1290,1295,1285,1298,1288,1292,
  1292,1280,1295,1285,1298,1275,1290,1285,1295,1282,
  1285,1295,1278,1290,1295,1282,1290,1272,1295,1285,
  1280,1290,1295,1278,1285,1268,1292,1282,1288,1275,
  1285,1272,1290,1265,1280,1288,1270,1292,1278,1282, // 2601
  1282,1268,1288,1275,1262,1285,1270,1290,1278,1265,
  1268,1280,1272,1258,1285,1275,1262,1285,1270,1278,
  1270,1258,1275,1262,1245,1265,1255,1250,1250,1245,
  1240,1235,1250,1235,1245
];

// isolated points off the main band: [sample, NET, detectors]
const outliers = [
  [0,10.09,1265],[0,10.21,1265],[0,10.34,1270],[1,10.60,1170],[3,11.53,1160],
  [25,12.07,1080],[33,11.76,1120],[165,12.17,1275],[190,12.01,1060],[224,11.79,1020],
  [243,11.90,1240],[252,11.82,1240],[277,12.23,1100],[292,11.82,1245],[300,11.98,1265],
  [310,12.16,1270],[339,13.09,979],[340,12.66,1000],[342,12.70,1050],[343,12.62,1070],
  [344,12.50,1120],[349,12.30,1150],[351,12.25,1150],[347,12.17,1150],[353,12.08,1150],
  [352,11.86,1150],[381,12.65,1040],[438,11.73,1285],[456,13.52,995],[526,11.81,1060],
  [554,12.75,1304],[617,11.82,1265],
  [704,12.96,995],[716,12.91,990],[706,12.60,995],[703,12.51,1040],[704,12.44,1010],
  [708,12.41,990],[706,12.36,1010],[708,12.27,1010],[703,12.19,1040],[710,12.17,990],
  [702,12.06,1040],[728,11.79,1240],[757,13.35,1050],[793,12.41,1040],[792,12.22,1150],
  [793,12.13,1150],[791,12.06,1150],[794,11.90,1150],[795,11.78,1150],
  [881,12.15,1010],[925,12.58,1150],[947,12.01,1270],[1008,12.54,1070],[1036,11.77,1200],
  [1087,12.79,1010],[1101,12.21,1140],[1121,12.91,990],[1142,11.77,1240],[1150,12.08,1040],
  [1195,13.01,1050],[1194,12.56,1045],[1193,12.24,1040],[1198,12.36,1150],[1197,12.31,1150],
  [1196,12.27,1150],[1196,12.17,1150],[1194,12.10,1150],[1195,11.80,1050],
  [1303,10.06,1275],[1428,12.97,1050],[1429,12.63,1120],[1429,12.40,1140],[1430,12.37,1140],
  [1453,12.34,1270],[1427,12.24,1010],[1454,12.22,1020],[1429,12.18,1120],[1430,11.87,1200],
  [1430,11.79,1200],
  [1519,12.64,1100],[1518,12.53,1100],[1516,12.40,1080],[1520,12.25,1090],[1519,12.12,1100],
  [1515,12.06,1090],[1559,12.97,1000],[1590,13.17,1090],[1591,13.11,1090],[1592,13.04,1090],
  [1589,12.99,1090],[1593,12.93,1090],[1593,12.40,1010],
  [1627,10.04,1275],[1695,12.23,1040],[1718,12.55,1020],[1719,12.49,1020],[1898,11.80,1150],
  [2032,10.20,1295],[2112,13.88,1000],
  [2158,12.35,1100],[2172,12.18,1030],[2173,12.85,995],[2177,12.27,1090],[2190,12.13,1140],
  [2183,12.00,1200],[2186,12.00,1210],[2185,11.94,1150],[2184,11.87,1190],[2182,11.30,1160],
  [2255,12.18,1100],[2268,12.22,1050],[2280,12.51,1040],[2320,11.89,1180],[2334,12.58,1060],
  [2367,12.13,1290],[2401,10.41,1280],[2433,12.96,1090],
  [2524,10.21,1280],[2532,10.05,1290],[2617,10.46,1290],[2637,11.45,1090],
  [2674,11.83,1180],[2674,11.78,1180],[2690,11.45,1230],[2692,10.92,1240],[2691,10.78,1245],
  [2689,10.64,1240],[2693,10.50,1250],[2688,11.02,1230]
];

const maValues = [
  11.05,11.30,11.33,11.00,10.95,11.02,10.92,10.86,10.82,10.76,
  10.79,10.84,10.89,10.92,10.86,10.88,10.98,11.08,11.05,11.15,
  11.28,11.40,11.35,11.28,11.35,11.24,11.10,11.11,11.08,11.10,
  10.98,11.00,11.02,11.60,12.22,11.60,11.30,11.22,11.00,10.96,
  11.06,11.10,11.08,11.20,11.32,11.44,11.40,11.32,11.30,11.18,
  11.20,11.16,11.12,10.98,11.10,11.20,11.18,11.15,11.14,11.17,
  11.16,11.15,11.10,11.06,11.02,10.97,10.94,10.89,10.98,12.05,
  12.10,11.40,11.24,11.33,11.28,11.24,11.12,11.45,11.68,11.55,
  11.40,11.41,11.40,11.35,11.30,11.26,11.15,11.04,11.02,11.04,
  11.14,11.20,11.18,11.28,11.32,11.22,11.20,11.25,11.27,11.24,
  11.18,11.15,11.12,11.10,11.08,11.05,11.03,11.15,11.33,11.34,
  11.32,11.30,11.33,11.32,11.31,11.30,11.36,11.45,11.80,11.96,
  11.48,11.16,11.18,11.22,11.30,11.18,11.10,11.06,11.03,11.02,
  10.93,11.02,11.08,11.04,11.05,11.01,11.10,11.05,11.00,10.99,
  11.01,11.45,11.57,11.30,11.10,11.07,11.00,11.05,11.10,11.20,
  11.78,11.90,11.74,11.70,12.00,12.25,12.40,12.55,12.62,11.60,
  11.10,11.04,10.98,11.02,11.00,11.12,11.10,11.00,11.02,11.10,
  11.18,11.05,11.15,11.20,11.18,11.26,11.22,11.18,11.20,11.15,
  11.05,11.03,11.02,10.97,11.18,11.20,11.18,11.06,11.03,11.12,
  11.14,11.16,11.17,11.15,11.14,11.12,11.08,11.18,11.20,11.18,
  11.12,11.05,11.00,10.93,11.02,11.12,11.20,11.10,11.06,10.98,
  11.05,11.20,11.15,10.98,10.95,11.15,11.45,11.78,11.82,11.65,
  11.38,11.24,11.18,11.15,11.22,11.38,11.40,11.22,11.15,11.20,
  11.28,11.33,11.25,11.15,11.10,11.18,11.20,11.12,11.05,11.03,
  11.12,11.30,11.32,11.22,11.12,11.05,11.10,11.16,11.22,11.18,
  11.10,11.02,11.02,11.06,11.08,11.00,10.92,10.92,11.00,11.06,
  11.10,11.12,11.15,11.16,11.17,11.22,11.28,11.18,11.03
];

const medianNet = 11.144;
const medianText = "11.1", sigmaText = "0.4";
const xTicks = [0, 500, 1000, 1500, 2000, 2500];
const yTicks = [10.0, 10.5, 11.0, 11.5, 12.0, 12.5, 13.0, 13.5, 14.0];
const cbarTicks = [1000, 1050, 1100, 1150, 1200, 1250, 1300];

const svg = d3.select("#chart");
const plot = { left: 87.5, right: 1041.5, top: 8, bottom: 452.7 };
const cbar = { left: 1059, right: 1078, top: 8, bottom: 452.7 };

const xScale = d3.scaleLinear().domain([-32.5, 2735.6]).range([plot.left, plot.right]);
const yScale = d3.scaleLinear().domain([9.8642, 14.0566]).range([plot.bottom, plot.top]);

var points = [];
netTot.forEach((v, i) => points.push({ s: 2 * i, v: v, d: nDetectors[i] }));
netTotOdd.forEach((v, i) => points.push({ s: 2 * i + 1, v: v, d: nDetectorsOdd[i] }));
outliers.forEach(o => points.push({ s: o[0], v: o[1], d: o[2] }));
points.sort((a, b) => a.s - b.s);

const detExtent = d3.extent(points, p => p.d);
const color = d3.scaleSequential(d3.interpolateViridis).domain(detExtent);

svg.append("rect").attr("width", 1156).attr("height", 507).attr("fill", "white");

svg.append("clipPath").attr("id", "clip")
  .append("rect")
  .attr("x", plot.left).attr("y", plot.top)
  .attr("width", plot.right - plot.left).attr("height", plot.bottom - plot.top);

// scatter
svg.append("g").attr("clip-path", "url(#clip)")
  .selectAll("circle")
  .data(points)
  .enter().append("circle")
  .attr("cx", p => xScale(p.s))
  .attr("cy", p => yScale(p.v))
  .attr("r", 3.5)
  .attr("fill", p => color(p.d));

// grid
const grid = svg.append("g").attr("stroke", "#b8b8b8").attr("stroke-width", 0.8)
  .attr("stroke-dasharray", "1,2.2");
xTicks.forEach(t => {
  grid.append("line")
    .attr("x1", xScale(t)).attr("x2", xScale(t))
    .attr("y1", plot.top).attr("y2", plot.bottom);
});
yTicks.forEach(t => {
  grid.append("line")
    .attr("x1", plot.left).attr("x2", plot.right)
    .attr("y1", yScale(t)).attr("y2", yScale(t));
});

// median line
const sExtent = d3.extent(points, p => p.s);
svg.append("line")
  .attr("x1", xScale(sExtent[0])).attr("x2", xScale(sExtent[1]))
  .attr("y1", yScale(medianNet)).attr("y2", yScale(medianNet))
  .attr("stroke", "#0000ff").attr("stroke-width", 2.6);

// moving average
const maLine = d3.line()
  .x((_, i) => xScale((i + 1) * MA_STEP))
  .y(d => yScale(d));
svg.append("path")
  .attr("d", maLine(maValues))
  .attr("fill", "none")
  .attr("stroke", "#000")
  .attr("stroke-width", 0.9);

// axes
const xAxis = d3.axisBottom(xScale).tickValues(xTicks).tickSize(3.5).tickPadding(10)
  .tickSizeOuter(0).tickFormat(d3.format("d"));
const yAxis = d3.axisLeft(yScale).tickValues(yTicks).tickSize(3.5).tickPadding(3.5)
  .tickSizeOuter(0).tickFormat(d3.format(".1f"));

const gx = svg.append("g").attr("transform", "translate(0," + plot.bottom + ")").call(xAxis);
const gy = svg.append("g").attr("transform", "translate(" + plot.left + ",0)").call(yAxis);
[gx, gy].forEach(g => {
  g.select(".domain").remove();
  g.selectAll(".tick line").attr("stroke", "#000").attr("stroke-width", 0.8);
  g.selectAll(".tick text").style("font-size", "16px").attr("font-family", "DejaVu Sans");
});

svg.append("rect")
  .attr("x", plot.left).attr("y", plot.top)
  .attr("width", plot.right - plot.left).attr("height", plot.bottom - plot.top)
  .attr("fill", "none").attr("stroke", "#000").attr("stroke-width", 0.8);

svg.append("text")
  .attr("x", (plot.left + plot.right) / 2).attr("y", 501)
  .attr("text-anchor", "middle").style("font-size", "19px")
  .text("Samples");

const yl = svg.append("text")
  .attr("transform", "translate(29,231) rotate(-90)")
  .attr("text-anchor", "middle").style("font-size", "19px");
yl.append("tspan").text("NET");
yl.append("tspan").attr("baseline-shift", "-25%").style("font-size", "13px").style("font-style", "italic").text("Tot");
yl.append("tspan").text(" (");
yl.append("tspan").style("font-style", "italic").text("μK");
yl.append("tspan").attr("baseline-shift", "-25%").style("font-size", "13px").style("font-style", "italic").text("cmb");
yl.append("tspan").text("√");
yl.append("tspan").style("font-style", "italic").style("text-decoration", "overline").text("s");
yl.append("tspan").text(")");

// legend
const lg = svg.append("g");
lg.append("rect")
  .attr("x", 712.7).attr("y", 15).attr("width", 320).attr("height", 53)
  .attr("rx", 3).attr("fill", "white").attr("fill-opacity", 0.8)
  .attr("stroke", "#d0d0d0").attr("stroke-width", 0.8);
lg.append("line").attr("x1", 719).attr("x2", 752).attr("y1", 28.3).attr("y2", 28.3)
  .attr("stroke", "#0000ff").attr("stroke-width", 2.6);
lg.append("line").attr("x1", 719).attr("x2", 752).attr("y1", 52.3).attr("y2", 52.3)
  .attr("stroke", "#7f7f7f").attr("stroke-width", 1.5);
const lt = lg.append("text").attr("x", 766).attr("y", 34).style("font-size", "16px");
lt.append("tspan").text("Median ±1");
lt.append("tspan").style("font-style", "italic").text("σ");
lt.append("tspan").text(": " + medianText + " ± " + sigmaText);
lg.append("text").attr("x", 766).attr("y", 58).style("font-size", "16px")
  .text("Twenty Sample Moving Average");

// colorbar
const cScale = d3.scaleLinear().domain(detExtent).range([cbar.bottom, cbar.top]);
const grad = svg.append("defs").append("linearGradient")
  .attr("id", "viridis").attr("x1", 0).attr("x2", 0).attr("y1", 1).attr("y2", 0);
d3.range(0, 1.0001, 0.05).forEach(t => {
  grad.append("stop").attr("offset", t).attr("stop-color", d3.interpolateViridis(t));
});
svg.append("rect")
  .attr("x", cbar.left).attr("y", cbar.top)
  .attr("width", cbar.right - cbar.left).attr("height", cbar.bottom - cbar.top)
  .attr("fill", "url(#viridis)").attr("stroke", "#000").attr("stroke-width", 0.8);
const gc = svg.append("g").attr("transform", "translate(" + cbar.right + ",0)")
  .call(d3.axisRight(cScale).tickValues(cbarTicks).tickSize(3.5).tickPadding(7)
    .tickSizeOuter(0).tickFormat(d3.format("d")));
gc.select(".domain").remove();
gc.selectAll(".tick line").attr("stroke", "#000").attr("stroke-width", 0.8);
gc.selectAll(".tick text").style("font-size", "16px").attr("font-family", "DejaVu Sans");

svg.append("text")
  .attr("transform", "translate(1153,231) rotate(-90)")
  .attr("text-anchor", "middle").style("font-size", "16px")
  .text("Number of Detectors");
</script>
</body>
</html>
